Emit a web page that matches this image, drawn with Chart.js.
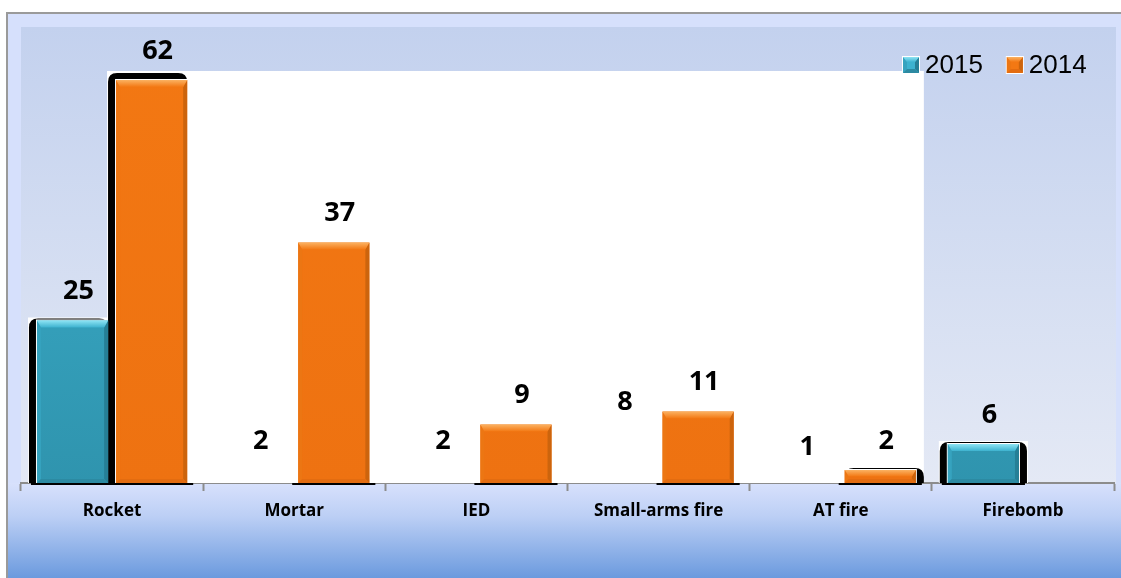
<!DOCTYPE html>
<html>
<head>
<meta charset="utf-8">
<script src="https://cdn.jsdelivr.net/npm/chart.js@4.4.1/dist/chart.umd.min.js"></script>
<style>
  html, body { margin: 0; padding: 0; background: #fff; }
  #wrap { width: 1121px; height: 578px; }
</style>
</head>
<body>
<div id="wrap"><canvas id="attacks-chart"></canvas></div>
<script>
const categories = ['Rocket', 'Mortar', 'IED', 'Small-arms fire', 'AT fire', 'Firebomb'];
const attacks2015 = [25, 2, 2, 8, 1, 6];
const attacks2014 = [62, 37, 9, 11, 2, null];
const seriesNames = ['2015', '2014'];
const yMax = 70;

// only the outer 2015 bars are painted, the rest just carry their number
const painted2015 = [true, false, false, false, false, true];

// black drop edges around a few bars: l = left, r = right, t = top
const shadowSides = [
    { 0: 'l', 5: 'lr' },
    { 0: 'lt', 4: 'r' }
];

const palette = [
    { top: '#3db2cf', bottom: '#2f94ae', bevTop: '#8ee4f4', bevLeft: '#36a3bf', bevRight: '#267f96', bevBottom: '#2c8aa2' },
    { top: '#f37813', bottom: '#ee7211', bevTop: '#fbb262', bevLeft: '#ec7613', bevRight: '#cc640d', bevBottom: '#e36c10' }
];

function bodyFill(i) {
    return function (context) {
        const chart = context.chart;
        const area = chart.chartArea;
        if (!area) return palette[i].top;
        if (i === 0 && !painted2015[context.dataIndex]) return 'rgba(0,0,0,0)';
        const g = chart.ctx.createLinearGradient(0, area.top, 0, area.bottom);
        g.addColorStop(0, palette[i].top);
        g.addColorStop(1, palette[i].bottom);
        return g;
    };
}

// raised-edge look: wide lit top, narrow sides and bottom
function bevel(ctx, l, r, t, b, c, size) {
    const d = Math.min(size, (b - t) / 2, (r - l) / 2);
    const s = Math.min(d, 4);
    const poly = (pts, fill) => {
        ctx.beginPath();
        ctx.moveTo(pts[0][0], pts[0][1]);
        for (let k = 1; k < pts.length; k++) ctx.lineTo(pts[k][0], pts[k][1]);
        ctx.closePath();
        ctx.fillStyle = fill;
        ctx.fill();
    };
    const gTop = ctx.createLinearGradient(0, t, 0, t + d);
    gTop.addColorStop(0, c.bevTop);
    gTop.addColorStop(1, c.top);
    poly([[r, t], [r, b], [r - s, b - s], [r - s, t + d]], c.bevRight);
    poly([[l, t], [l + s, t + d], [l + s, b - s], [l, b]], c.bevLeft);
    poly([[l, b], [l + s, b - s], [r - s, b - s], [r, b]], c.bevBottom);
    poly([[l, t], [r, t], [r - s, t + d], [l + s, t + d]], gTop);
}

function barBox(el) {
    return { l: el.x - el.width / 2, r: el.x + el.width / 2, t: el.y, b: el.base };
}

function isPainted(di, i, chart) {
    const v = chart.data.datasets[di].data[i];
    if (v === null || v === undefined) return false;
    return di === 1 || painted2015[i];
}

function roundRect(ctx, x, y, w, h, r) {
    ctx.beginPath();
    ctx.moveTo(x + r, y);
    ctx.lineTo(x + w - r, y);
    ctx.quadraticCurveTo(x + w, y, x + w, y + r);
    ctx.lineTo(x + w, y + h);
    ctx.lineTo(x, y + h);
    ctx.lineTo(x, y + r);
    ctx.quadraticCurveTo(x, y, x + r, y);
    ctx.closePath();
}

const backdrop = {
    id: 'backdrop',
    beforeDraw(chart) {
        const ctx = chart.ctx;
        const area = chart.chartArea;
        const W = chart.width, H = chart.height;
        ctx.save();
        ctx.fillStyle = '#ffffff';
        ctx.fillRect(0, 0, W, H);
        // outer frame
        ctx.fillStyle = '#d6e0fc';
        ctx.fillRect(7, 13, W - 7, area.bottom - 13);
        // plot panel
        const gp = ctx.createLinearGradient(0, 27, 0, area.bottom);
        gp.addColorStop(0, '#c3d1ee');
        gp.addColorStop(1, '#e4e9f5');
        ctx.fillStyle = gp;
        ctx.fillRect(21, 27, W - 26, area.bottom - 27);
        // band under the axis
        const gb = ctx.createLinearGradient(0, area.bottom, 0, H);
        gb.addColorStop(0, '#d8e1fc');
        gb.addColorStop(0.35, '#bccff5');
        gb.addColorStop(1, '#6b9ade');
        ctx.fillStyle = gb;
        ctx.fillRect(7, area.bottom, W - 7, H - area.bottom);
        ctx.strokeStyle = '#9a9a9a';
        ctx.lineWidth = 2;
        ctx.beginPath();
        ctx.moveTo(7, H);
        ctx.lineTo(7, 13);
        ctx.lineTo(W, 13);
        ctx.stroke();
        ctx.restore();
    },
    beforeDatasetsDraw(chart) {
        const ctx = chart.ctx;
        const area = chart.chartArea;
        const m15 = chart.getDatasetMeta(0).data;
        const m14 = chart.getDatasetMeta(1).data;
        ctx.save();
        // white sheet across the middle of the plot
        const first = barBox(m14[0]);
        const last = barBox(m14[4]);
        ctx.fillStyle = '#ffffff';
        ctx.fillRect(first.l - 9, first.t - 9, last.r + 8 - (first.l - 9), area.bottom - first.t + 9);
        m15.forEach((el, i) => {
            if (!isPainted(0, i, chart)) return;
            const b = barBox(el);
            ctx.fillRect(b.l - 9, b.t - 3, b.r - b.l + 18, b.b - b.t + 3);
        });
        // dark edges behind the bars
        ctx.fillStyle = '#000000';
        [m15, m14].forEach((meta, di) => {
            meta.forEach((el, i) => {
                if (!isPainted(di, i, chart)) return;
                const b = barBox(el);
                ctx.fillRect(b.l - 6, b.b, b.r - b.l + 12, 2);
                const s = shadowSides[di][i];
                if (!s) return;
                const l = b.l - (s.includes('l') ? 8 : 0);
                const r = b.r + (s.includes('r') ? 8 : 0);
                const t = b.t - (s.includes('t') ? 7 : 2);
                roundRect(ctx, l, t, r - l, b.b - t, 9);
                ctx.fill();
                ctx.fillStyle = '#ffffff';
                ctx.fillRect(b.l - 1, b.t - 1, b.r - b.l + 2, b.b - b.t + 1);
                ctx.fillStyle = '#000000';
            });
        });
        ctx.restore();
    },
    afterDatasetsDraw(chart) {
        const ctx = chart.ctx;
        ctx.save();
        [0, 1].forEach(di => {
            chart.getDatasetMeta(di).data.forEach((el, i) => {
                if (!isPainted(di, i, chart)) return;
                const b = barBox(el);
                bevel(ctx, b.l, b.r, b.t, b.b, palette[di], 7);
            });
        });
        // value labels
        ctx.fillStyle = '#000000';
        ctx.font = 'bold 27px "Open Sans"';
        ctx.textAlign = 'center';
        ctx.textBaseline = 'middle';
        chart.data.datasets.forEach((ds, di) => {
            chart.getDatasetMeta(di).data.forEach((el, i) => {
                const v = ds.data[i];
                if (v === null || v === undefined) return;
                ctx.fillText(String(v), el.x + 6, el.y - 29);
            });
        });
        ctx.restore();
    },
    afterDraw(chart) {
        const ctx = chart.ctx;
        ctx.save();
        ctx.font = '26px "Liberation Sans"';
        ctx.textBaseline = 'middle';
        ctx.textAlign = 'left';
        let x = 903;
        const y = 57;
        chart.data.datasets.forEach((ds, di) => {
            const c = palette[di];
            ctx.fillStyle = '#ffffff';
            ctx.fillRect(x - 1, y - 1, 18, 18);
            ctx.fillStyle = c.top;
            ctx.fillRect(x, y, 16, 16);
            bevel(ctx, x, x + 16, y, y + 16, c, 5);
            ctx.fillStyle = '#000000';
            ctx.fillText(ds.label, x + 22, y + 9);
            x += 22 + ctx.measureText(ds.label).width + 24;
        });
        ctx.restore();
    }
};

document.addEventListener('DOMContentLoaded', function () {
    const canvas = document.getElementById('attacks-chart');
    new Chart(canvas, {
        type: 'bar',
        data: {
            labels: categories,
            datasets: [{
                label: seriesNames[0],
                data: attacks2015,
                backgroundColor: bodyFill(0),
                borderWidth: 0
            },
            {
                label: seriesNames[1],
                data: attacks2014,
                backgroundColor: bodyFill(1),
                borderWidth: 0
            }]
        },
        options: {
            responsive: true,
            maintainAspectRatio: false,
            animation: false,
            categoryPercentage: 0.868,
            barPercentage: 0.9,
            layout: {
                padding: { left: 21, right: 7, top: 28, bottom: 0 }
            },
            scales: {
                x: {
                    grid: {
                        offset: true,
                        drawOnChartArea: false,
                        drawTicks: true,
                        tickLength: 8,
                        tickWidth: 2,
                        tickColor: '#8c8c8c'
                    },
                    border: { display: true, color: '#8c8c8c', width: 2 },
                    ticks: {
                        color: '#000000',
                        padding: 10,
                        font: { family: '"Open Sans"', size: 17, weight: 'bold' }
                    },
                    afterFit: function (scale) { scale.height = 95; }
                },
                y: {
                    display: false,
                    min: 0,
                    max: yMax
                }
            },
            plugins: {
                legend: { display: false },
                tooltip: { enabled: false }
            }
        },
        plugins: [backdrop]
    });
});
</script>
</body>
</html>
